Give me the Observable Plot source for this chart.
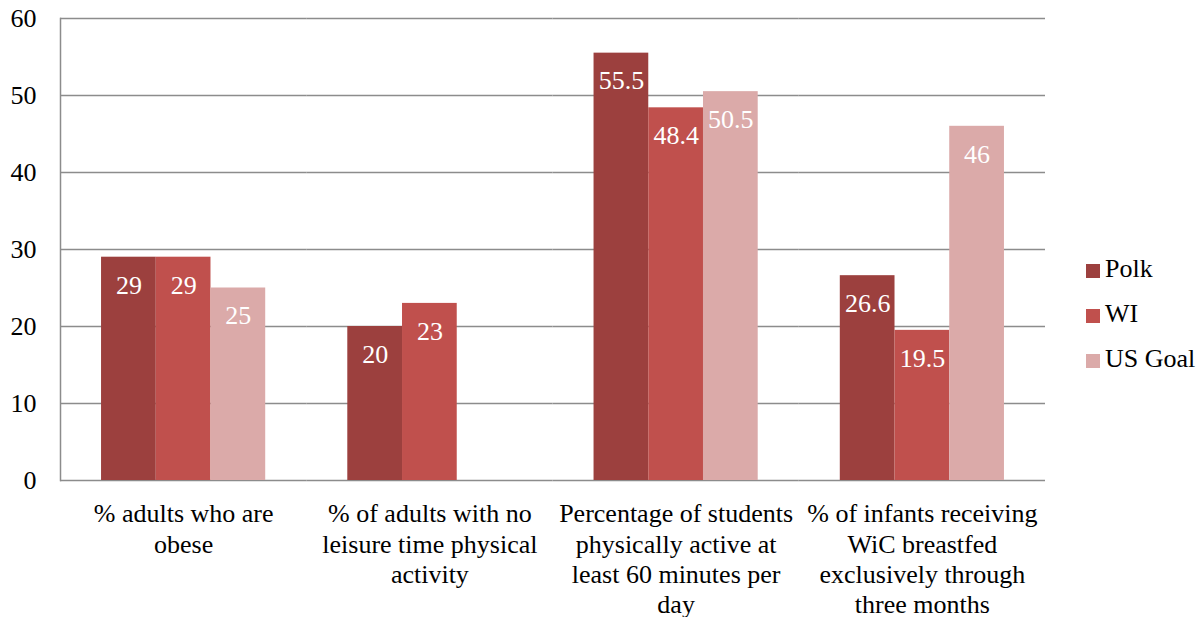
<!DOCTYPE html>
<html>
<head>
<meta charset="utf-8">
<script src="https://cdn.jsdelivr.net/npm/d3@7"></script>
<script src="https://cdn.jsdelivr.net/npm/@observablehq/plot@0.6"></script>
<style>
  body { margin: 0; background: #fff; }
  #wrap { position: relative; width: 1204px; height: 617px; }
  .lg { position: absolute; left: 1086px; font-size: 26px; color: #000; white-space: nowrap; line-height: 26px; }
  .lg span.sw { display: inline-block; width: 14px; height: 14px; margin-right: 5px; vertical-align: -1px; }
</style>
</head>
<body>
<div id="wrap"></div>
<script>
const categories = [
  "% adults who are\nobese",
  "% of adults with no\nleisure time physical\nactivity",
  "Percentage of students\nphysically active at\nleast 60 minutes per\nday",
  "% of infants receiving\nWiC breastfed\nexclusively through\nthree months"
];
const series = ["Polk", "WI", "US Goal"];
const polk = [29, 20, 55.5, 26.6];
const wi = [29, 23, 48.4, 19.5];
const usGoal = [25, null, 50.5, 46];
const yTicks = [0, 10, 20, 30, 40, 50, 60];
const colors = ["#9c403e", "#c0504d", "#dbaaa9"];

const valuesBySeries = [polk, wi, usGoal];
const rows = [];
categories.forEach((c, i) => {
  series.forEach((s, j) => {
    const v = valuesBySeries[j][i];
    if (v != null) rows.push({category: c, series: s, value: v});
  });
});

const SERIF = '"Liberation Serif", serif';

const chart = Plot.plot({
  width: 1204,
  height: 617,
  marginLeft: 60,
  marginRight: 159,
  marginTop: 18,
  marginBottom: 137,
  style: {fontSize: "26px", color: "#000", background: "#fff", overflow: "visible"},
  fx: {domain: categories, paddingInner: 0, paddingOuter: 0, round: false, label: null, axis: null},
  x: {domain: series, paddingInner: 0, paddingOuter: 0.75, round: false, axis: null},
  y: {domain: [0, 60], label: null, axis: null},
  color: {domain: series, range: colors},
  marks: [
    Plot.ruleY(yTicks, {stroke: "#8c8c8c", strokeWidth: 1.5}),
    Plot.frame({anchor: "left", facetAnchor: "left", stroke: "#8c8c8c", strokeWidth: 1.5}),
    Plot.barY(rows, {fx: "category", x: "series", y: "value", fill: "series"}),
    Plot.text(rows, {fx: "category", x: "series", y: "value", text: d => String(d.value), dy: 28, fill: "#fff", fontSize: 26}),
    Plot.axisY({ticks: yTicks, tickSize: 0, tickPadding: 24, fontSize: 26, label: null}),
    Plot.axisFx({anchor: "bottom", tickSize: 0, tickPadding: 20, fontSize: 26, label: null, lineHeight: 1.17})
  ]
});

chart.style.fontFamily = SERIF;
chart.querySelectorAll("text, tspan").forEach(el => { el.style.fontFamily = SERIF; });
document.getElementById("wrap").appendChild(chart);

const legendTops = [256, 301, 346];
series.forEach((s, j) => {
  const d = document.createElement("div");
  d.className = "lg";
  d.style.top = legendTops[j] + "px";
  d.style.fontFamily = SERIF;
  d.innerHTML = `<span class="sw" style="background:${colors[j]}"></span>${s}`;
  document.getElementById("wrap").appendChild(d);
});
</script>
</body>
</html>
